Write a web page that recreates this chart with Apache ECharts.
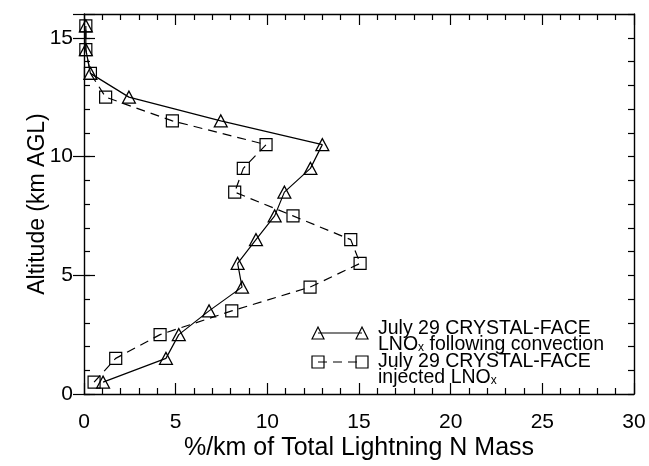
<!DOCTYPE html>
<html>
<head>
<meta charset="utf-8">
<script src="https://cdn.jsdelivr.net/npm/echarts@6/dist/echarts.min.js"></script>
<style>
  html, body { margin: 0; padding: 0; background: #fff; }
  #chart { width: 649px; height: 466px; }
</style>
</head>
<body>
<div id="chart"></div>
<script>
// Vertical profiles of lightning NOx mass, July 29 (CRYSTAL-FACE)
var altitudes = [0.5, 1.5, 2.5, 3.5, 4.5, 5.5, 6.5, 7.5, 8.5, 9.5, 10.5, 11.5, 12.5, 13.5, 14.5, 15.5];
var followingConvection = [1.04, 4.47, 5.17, 6.82, 8.62, 8.38, 9.38, 10.4, 10.93, 12.35, 13.0, 7.46, 2.45, 0.35, 0.1, 0.1];
var injectedLNOx = [0.55, 1.73, 4.15, 8.06, 12.33, 15.06, 14.55, 11.4, 8.22, 8.69, 9.93, 4.82, 1.18, 0.35, 0.1, 0.1];
var xTicks = [0, 5, 10, 15, 20, 25, 30];
var yTicks = [0, 5, 10, 15];

var FONT = '"Liberation Sans", Arial, sans-serif';
var INK = '#000';

function pairs(xs, ys) {
  return xs.map(function (v, i) { return [v, ys[i]]; });
}

var chart = echarts.init(document.getElementById('chart'), null, { renderer: 'canvas' });

var axisLine = { show: true, onZero: false, lineStyle: { color: INK, width: 1.4 } };
var noLine = { show: false };
var tickStyle = { color: INK, width: 1.2 };

var subRich = {
  n: { fontFamily: FONT, fontSize: 19.5, lineHeight: 18 },
  s: { fontFamily: FONT, fontSize: 12, lineHeight: 8, verticalAlign: 'bottom' }
};

var option = {
  animation: false,
  backgroundColor: '#fff',
  grid: { left: 84, right: 15, top: 14, bottom: 64, containLabel: false },
  xAxis: [
    {
      type: 'value', position: 'bottom', min: xTicks[0], max: xTicks[xTicks.length - 1], interval: 5,
      axisLine: axisLine,
      axisTick: { show: true, inside: true, length: 11, lineStyle: tickStyle },
      minorTick: { show: true, splitNumber: 5, length: 6, lineStyle: tickStyle },
      splitLine: { show: false },
      axisLabel: { color: INK, fontFamily: FONT, fontSize: 21, margin: 18 },
      name: '%/km of Total Lightning N Mass', nameLocation: 'middle', nameGap: 42,
      nameMoveOverlap: false,
      nameTextStyle: { color: INK, fontFamily: FONT, fontSize: 25 }
    },
    {
      type: 'value', position: 'top', min: xTicks[0], max: xTicks[xTicks.length - 1], interval: 5,
      axisLine: axisLine,
      axisTick: { show: true, inside: true, length: 11, lineStyle: tickStyle },
      minorTick: { show: true, splitNumber: 5, length: 6, lineStyle: tickStyle },
      splitLine: { show: false },
      axisLabel: { show: false }
    }
  ],
  yAxis: [
    {
      type: 'value', position: 'left', min: 0, max: 16, interval: 1,
      axisLine: axisLine,
      axisTick: { show: true, inside: true, length: 6, lineStyle: tickStyle },
      splitLine: { show: false },
      axisLabel: {
        color: INK, fontFamily: FONT, fontSize: 21, margin: 11, showMaxLabel: false,
        formatter: function (v) { return yTicks.indexOf(v) >= 0 ? String(v) : ''; }
      },
      name: 'Altitude (km AGL)', nameLocation: 'middle', nameGap: 35,
      nameMoveOverlap: false,
      nameTextStyle: { color: INK, fontFamily: FONT, fontSize: 23 }
    },
    {
      type: 'value', position: 'left', min: 0, max: 16, interval: 5,
      axisLine: noLine,
      axisTick: { show: true, inside: true, length: 11, lineStyle: tickStyle },
      splitLine: { show: false }, axisLabel: { show: false }
    },
    {
      type: 'value', position: 'right', min: 0, max: 16, interval: 1,
      axisLine: axisLine,
      axisTick: { show: true, inside: true, length: 6, lineStyle: tickStyle },
      splitLine: { show: false }, axisLabel: { show: false }
    },
    {
      type: 'value', position: 'right', min: 0, max: 16, interval: 5,
      axisLine: noLine,
      axisTick: { show: true, inside: true, length: 11, lineStyle: tickStyle },
      splitLine: { show: false }, axisLabel: { show: false }
    }
  ],
  series: [
    {
      name: 'following convection', type: 'line', xAxisIndex: 0, yAxisIndex: 0,
      data: pairs(followingConvection, altitudes),
      symbol: 'triangle', symbolSize: [13, 12], showAllSymbol: true,
      lineStyle: { color: INK, width: 1.2, type: 'solid' },
      itemStyle: { color: 'rgba(0,0,0,0)', borderColor: INK, borderWidth: 1.2 },
      emphasis: { disabled: true }, z: 3
    },
    {
      name: 'injected', type: 'line', xAxisIndex: 0, yAxisIndex: 0,
      data: pairs(injectedLNOx, altitudes),
      symbol: 'rect', symbolSize: 12, showAllSymbol: true,
      lineStyle: { color: INK, width: 1.2, type: [9, 6] },
      itemStyle: { color: 'rgba(0,0,0,0)', borderColor: INK, borderWidth: 1.2 },
      emphasis: { disabled: true }, z: 3
    }
  ],
  graphic: [
    // key: solid line with triangles
    { type: 'line', shape: { x1: 318, y1: 333, x2: 362, y2: 333 }, style: { stroke: INK, lineWidth: 1.2 } },
    { type: 'polygon', shape: { points: [[312, 339], [318, 327], [324, 339]] }, style: { fill: 'none', stroke: INK, lineWidth: 1.2 } },
    { type: 'polygon', shape: { points: [[356, 339], [362, 327], [368, 339]] }, style: { fill: 'none', stroke: INK, lineWidth: 1.2 } },
    // key: dashed line with squares
    { type: 'line', shape: { x1: 318, y1: 362, x2: 362, y2: 362 }, style: { stroke: INK, lineWidth: 1.2, lineDash: [9, 6] } },
    { type: 'rect', shape: { x: 312, y: 356, width: 12, height: 12 }, style: { fill: 'none', stroke: INK, lineWidth: 1.2 } },
    { type: 'rect', shape: { x: 356, y: 356, width: 12, height: 12 }, style: { fill: 'none', stroke: INK, lineWidth: 1.2 } },
    // key labels
    { type: 'text', x: 378, y: 329, style: { text: 'July 29 CRYSTAL-FACE', fill: INK, fontFamily: FONT, fontSize: 19.5, textVerticalAlign: 'middle' } },
    { type: 'text', x: 378, y: 345, style: {
        text: '{n|LNO}{s|x}{n| following convection}', fill: INK, textVerticalAlign: 'middle', rich: subRich } },
    { type: 'text', x: 378, y: 362, style: { text: 'July 29 CRYSTAL-FACE', fill: INK, fontFamily: FONT, fontSize: 19.5, textVerticalAlign: 'middle' } },
    { type: 'text', x: 378, y: 378, style: {
        text: '{n|injected LNO}{s|x}', fill: INK, textVerticalAlign: 'middle', rich: subRich } }
  ]
};

chart.setOption(option);
</script>
</body>
</html>
